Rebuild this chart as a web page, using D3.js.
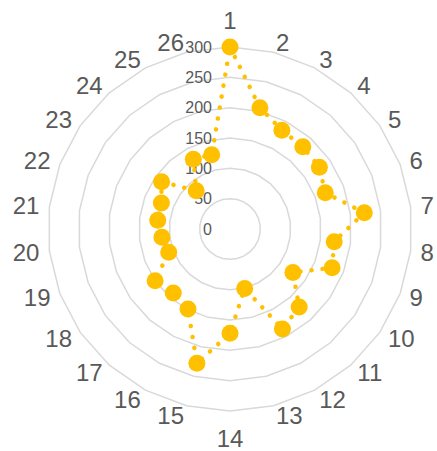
<!DOCTYPE html>
<html>
<head>
<meta charset="utf-8">
<script src="https://cdn.jsdelivr.net/npm/d3@7"></script>
<style>
  body { margin: 0; background: #fff; }
  svg { display: block; }
</style>
</head>
<body>
<svg id="chart" width="437" height="451"></svg>
<script>
// categories and values
const categories = ["1","2","3","4","5","6","7","8","9","10","11","12","13","14","15","16","17","18","19","20","21","22","23","24","25","26"]
const values = [300, 206, 184, 181, 179, 168, 223, 173, 180, 126, 172, 186, 101, 172, 228, 149, 141, 150, 108, 113, 120, 121, 137, 84, 130, 126]
const ticks = [0, 50, 100, 150, 200, 250, 300]

const width = 437, height = 451
const cx = 230, cy = 229
const color = "#FFC000"

const svg = d3.select("#chart")
const g = svg.append("g").attr("transform", "translate(" + cx + "," + cy + ")")

const r = d3.scaleLinear().domain([0, 300]).range([0, 182])
const angle = d3.scaleLinear().domain([0, categories.length]).range([0, 2 * Math.PI])

// polygon gridlines
const gridLine = d3.lineRadial()
    .angle(function(d, i) { return angle(i) })
    .radius(function(d) { return r(d) })
    .curve(d3.curveLinearClosed)

ticks.filter(function(t) { return t > 0 }).forEach(function(t) {
    g.append("path")
        .attr("d", gridLine(categories.map(function() { return t })))
        .attr("fill", "none")
        .attr("stroke", "#d9d9d9")
        .attr("stroke-width", 1.5)
})

// tick labels on the vertical axis
g.selectAll("text.tick")
    .data(ticks)
    .enter()
    .append("text")
      .attr("class", "tick")
      .attr("x", -18)
      .attr("y", function(d) { return -r(d) })
      .attr("text-anchor", "end")
      .attr("dominant-baseline", "central")
      .attr("font-family", "Liberation Sans, Arial, sans-serif")
      .attr("font-size", 16)
      .attr("fill", "#595959")
      .text(function(d) { return d })

// category labels: anchored at a point just outside the outer ring
const labelR = 192
g.selectAll("text.cat")
    .data(categories)
    .enter()
    .append("text")
      .attr("class", "cat")
      .attr("font-family", "Liberation Sans, Arial, sans-serif")
      .attr("font-size", 24)
      .attr("fill", "#595959")
      .attr("dominant-baseline", "central")
      .each(function(d, i) {
          var a = angle(i)
          var s = Math.sin(a), c = Math.cos(a)
          var x = labelR * s, y = -labelR * c
          var anchor = "middle"
          if (s > 0.01) anchor = "start"
          else if (s < -0.01) anchor = "end"
          else y = y + (c > 0 ? -17 : 17)
          d3.select(this)
              .attr("x", x)
              .attr("y", y)
              .attr("text-anchor", anchor)
      })
      .text(function(d) { return d })

// series line
const seriesLine = d3.lineRadial()
    .angle(function(d, i) { return angle(i) })
    .radius(function(d) { return r(d) })
    .curve(d3.curveLinearClosed)

g.append("path")
    .attr("d", seriesLine(values))
    .attr("fill", "none")
    .attr("stroke", color)
    .attr("stroke-width", 4.5)
    .attr("stroke-linecap", "round")
    .attr("stroke-dasharray", "0.1 11")

// markers
g.selectAll("circle.pt")
    .data(values)
    .enter()
    .append("circle")
      .attr("class", "pt")
      .attr("cx", function(d, i) { return r(d) * Math.sin(angle(i)) })
      .attr("cy", function(d, i) { return -r(d) * Math.cos(angle(i)) })
      .attr("r", 8.5)
      .attr("fill", color)
</script>
</body>
</html>
